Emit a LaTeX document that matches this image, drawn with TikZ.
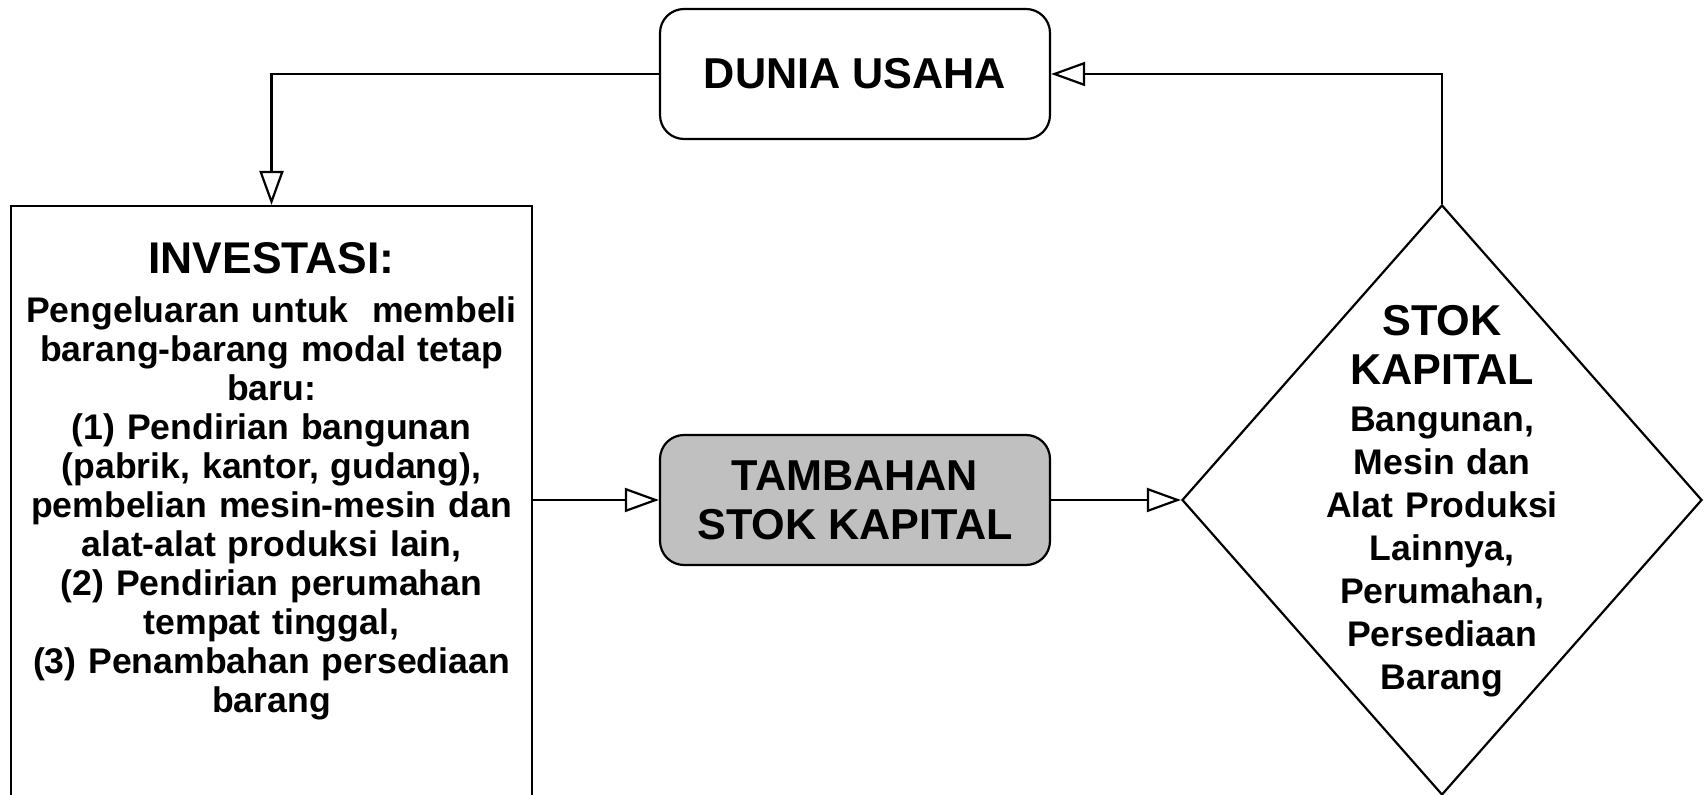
\documentclass[tikz,border=0pt]{standalone}
\usepackage{fontspec}
\setmainfont{Liberation Sans}
\usetikzlibrary{shapes.geometric,arrows.meta}
\definecolor{boxgray}{RGB}{192,192,192}
\begin{document}
\begin{tikzpicture}[x=0.5pt,y=-0.5pt]
  \tikzset{roundbox/.style={draw, line width=1.1pt, rounded corners=12pt, minimum width=195pt, minimum height=65pt, inner sep=0pt, align=center, font=\bfseries\fontsize{21.6}{24.5}\selectfont},
    plainbox/.style={draw, line width=1.1pt, rectangle, inner sep=0pt, minimum width=260.5pt, minimum height=310pt},
    stokbox/.style={draw, line width=1.1pt, diamond, inner sep=0pt, minimum width=260pt, minimum height=295pt},
    bodytext/.style={align=center, text width=300pt, inner sep=0pt, font=\bfseries\fontsize{17.8}{19.5}\selectfont},
    stoktext/.style={bodytext, font=\bfseries\fontsize{17.8}{21.5}\selectfont},
    flow/.style={line width=1.1pt, -{Triangle[open, length=17pt, width=12pt]}}}
  \useasboundingbox (0,0) rectangle (1706,795);
%% Boxes
  \node[roundbox] (dunia) at (855,74) {DUNIA USAHA};
  \node[roundbox, fill=boxgray] (tambah) at (855,500) {TAMBAHAN\\STOK KAPITAL};
  \node[plainbox, anchor=north] (invest) at (271.5,205) {};
  \node[stokbox] (stok) at (1442,500) {};
%% Texts
  \node[bodytext] (investtxt) at (271.5,481) {{\fontsize{22.2}{24.5}\selectfont INVESTASI:\par}\vspace{5pt}
    Pengeluaran untuk~ membeli\\ barang-barang modal tetap\\ baru:\\ (1) Pendirian bangunan\\ (pabrik, kantor, gudang),\\ pembelian mesin-mesin dan\\ alat-alat produksi lain,\\ (2) Pendirian perumahan\\ tempat tinggal,\\ (3) Penambahan persediaan\\ barang};
  \node[stoktext] (stoktxt) at (1442,501) {{\fontsize{21.6}{24.5}\selectfont STOK\\ KAPITAL\par}\vspace{2pt}
    Bangunan,\\ Mesin dan\\ Alat Produksi\\ Lainnya,\\ Perumahan,\\ Persediaan\\ Barang};
%% Arrows
  \draw[flow] (dunia.west) -| (invest.north);
  \draw[flow] (stok.north) |- (dunia.east);
  \draw[flow] (tambah.west -| invest.east) -- (tambah.west);
  \draw[flow] (tambah.east) -- (stok.west);
\end{tikzpicture}
\end{document}
